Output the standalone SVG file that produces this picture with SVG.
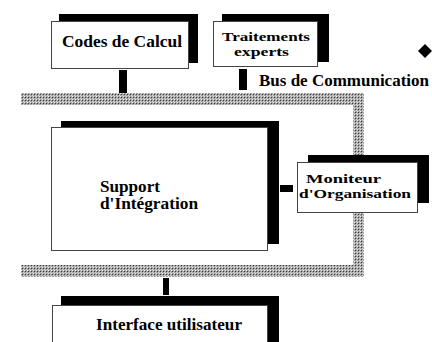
<svg xmlns="http://www.w3.org/2000/svg" width="432" height="342" viewBox="0 0 432 342">
<style>
.shadow{fill:#000}
.box{fill:#fff;stroke:#444;stroke-width:1}
.lbl{font-family:"Liberation Serif","Times New Roman",serif;font-weight:bold;font-size:17px;fill:#000}
.sm{font-size:13.5px}
.md{font-size:16px}
.conn{fill:#000}
</style>
<defs>
<pattern id="dots" width="3" height="3" patternUnits="userSpaceOnUse">
<rect width="3" height="3" fill="#a4a4a4"/>
<rect x="0" y="0" width="1" height="1" fill="#ececec"/>
<rect x="1" y="1" width="1" height="1" fill="#3a3a3a"/>
<rect x="2" y="2" width="1" height="1" fill="#d8d8d8"/>
</pattern>
</defs>
<rect width="432" height="342" fill="#fff"/>
<g id="bus">
<path d="M21,93 H364 V277 H21 V265 H353 V105 H21 Z" fill="url(#dots)"/>
</g>
<g id="bus-label">
<text class="lbl" x="259" y="86" textLength="170" lengthAdjust="spacingAndGlyphs">Bus de Communication</text>
</g>
<g id="diamond">
<polygon points="425,44 432,51 425,58 418,51" fill="#000"/>
</g>
<g id="connectors">
<rect class="conn" x="119" y="70" width="8" height="23"/>
<rect class="conn" x="239" y="69" width="8" height="21"/>
<rect class="conn" x="280" y="185" width="13" height="7"/>
<rect class="conn" x="163" y="278" width="6" height="17"/>
</g>
<g id="codes">
<rect class="shadow" x="59" y="14" width="139" height="49"/>
<rect class="box" x="51.5" y="21.5" width="137" height="47"/>
<text class="lbl" x="62" y="47" textLength="120" lengthAdjust="spacingAndGlyphs">Codes de Calcul</text>
</g>
<g id="traitements">
<rect class="shadow" x="222" y="14" width="107" height="48"/>
<rect class="box" x="213.5" y="21.5" width="104" height="45"/>
<text class="lbl sm" x="222" y="41" textLength="88" lengthAdjust="spacingAndGlyphs">Traitements</text>
<text class="lbl sm" x="234" y="56" textLength="55" lengthAdjust="spacingAndGlyphs">experts</text>
</g>
<g id="support">
<rect class="shadow" x="61" y="121" width="218" height="123"/>
<rect class="box" x="51.5" y="127.5" width="216" height="123"/>
<text class="lbl md" x="100" y="192" textLength="60" lengthAdjust="spacingAndGlyphs">Support</text>
<text class="lbl md" x="100" y="209" textLength="98" lengthAdjust="spacingAndGlyphs">d'Intégration</text>
</g>
<g id="moniteur">
<rect class="shadow" x="308" y="155" width="121" height="48"/>
<rect class="box" x="297.5" y="162.5" width="120" height="50"/>
<text class="lbl sm" x="306" y="183" textLength="75" lengthAdjust="spacingAndGlyphs">Moniteur</text>
<text class="lbl sm" x="299" y="198" textLength="112" lengthAdjust="spacingAndGlyphs">d'Organisation</text>
</g>
<g id="interface">
<rect class="shadow" x="61" y="296" width="218" height="50"/>
<rect class="box" x="52.5" y="305.5" width="215" height="40"/>
<text class="lbl" x="96" y="330" textLength="146" lengthAdjust="spacingAndGlyphs">Interface utilisateur</text>
</g>
</svg>
